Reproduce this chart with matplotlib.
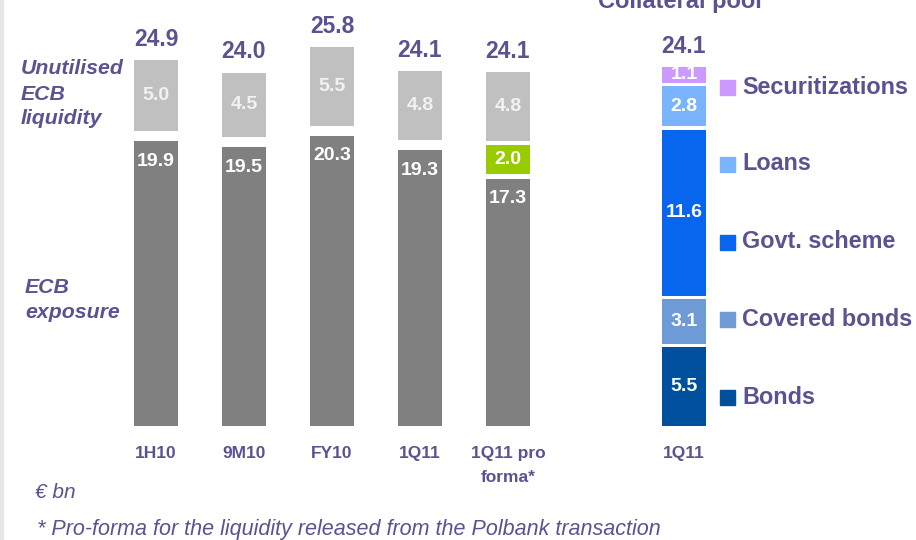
import matplotlib
matplotlib.use('Agg')
import matplotlib.pyplot as plt
from matplotlib.patches import Rectangle

plt.rcParams['font.family'] = ['Liberation Sans', 'DejaVu Sans']

# ECB liquidity columns (EUR bn)
periods = ['1H10', '9M10', 'FY10', '1Q11', '1Q11 pro\nforma*']
ecb_exposure = [19.9, 19.5, 20.3, 19.3, 17.3]
released = [0, 0, 0, 0, 2.0]
unutilised = [5.0, 4.5, 5.5, 4.8, 4.8]
totals = [24.9, 24.0, 25.8, 24.1, 24.1]

# collateral pool, bottom to top
pool_period = '1Q11'
pool_labels = ['Bonds', 'Covered bonds', 'Govt. scheme', 'Loans', 'Securitizations']
pool_values = [5.5, 3.1, 11.6, 2.8, 1.1]
pool_total = 24.1

purple = '#5B5291'
dark_grey = '#808080'
light_grey = '#C0C0C0'
green = '#99CC00'
pool_colors = ['#00509E', '#6E9AD6', '#0866EE', '#7AB4FF', '#CC99FF']

W, H = 916, 540
fig = plt.figure(figsize=(W / 100, H / 100), dpi=100)
ax = fig.add_axes([0, 0, 1, 1])
ax.axis('off')

px_x = 88.0    # pixels per category step
px_y = 14.3    # pixels per EUR bn
x0, y0 = 156, 114
ax.set_xlim(-x0 / px_x, (W - x0) / px_x)
ax.set_ylim(-y0 / px_y, (H - y0) / px_y)

# light strip on the left edge
fig.patches.append(Rectangle((0, 0), 3 / W, 1, transform=fig.transFigure,
                             color='#E6E6E6', zorder=0))

bw = 0.51
for i in range(len(periods)):
    segs = [(ecb_exposure[i], dark_grey, 'white', 'top')]
    if released[i]:
        segs.append((released[i], green, 'white', 'center'))
    segs.append((unutilised[i], light_grey, '#F2F2F2', 'center'))
    gap = 0.7 if len(segs) == 2 else 0.32
    bottom = 0
    for val, col, tcol, pos in segs:
        ax.bar(i, val, bw, bottom=bottom, color=col, linewidth=0)
        if pos == 'top':
            ax.annotate(f'{val:.1f}', (i, bottom + val), xytext=(0, -14.5),
                        textcoords='offset points', ha='center', va='center',
                        color=tcol, fontsize=14, fontweight='bold')
        else:
            ax.text(i, bottom + val / 2, f'{val:.1f}', ha='center', va='center',
                    color=tcol, fontsize=14, fontweight='bold')
        bottom += val + gap
    ax.annotate(f'{totals[i]:.1f}', (i, bottom - gap), xytext=(0, 15),
                textcoords='offset points', ha='center', va='center',
                color=purple, fontsize=16.5, fontweight='bold')
    ax.annotate(periods[i], (i, 0), xytext=(0, -14.5), textcoords='offset points',
                ha='center', va='top', color=purple, fontsize=12.5,
                fontweight='bold', linespacing=1.75)

# collateral pool column
xp = 6
gap = 0.25
bottom = 0
for val, col in zip(pool_values, pool_colors):
    ax.bar(xp, val, 0.51, bottom=bottom, color=col, linewidth=0)
    ax.text(xp, bottom + val / 2, f'{val:.1f}', ha='center', va='center',
            color='white', fontsize=14, fontweight='bold')
    bottom += val + gap
ax.annotate(f'{pool_total:.1f}', (xp, bottom - gap), xytext=(0, 15),
            textcoords='offset points', ha='center', va='center',
            color=purple, fontsize=16.5, fontweight='bold')
ax.annotate(pool_period, (xp, 0), xytext=(0, -14.5), textcoords='offset points',
            ha='center', va='top', color=purple, fontsize=12.5, fontweight='bold')

# legend for the pool, top to bottom
leg_y = [87.5, 164, 242, 319, 397]
for lab, col, yy in zip(pool_labels[::-1], pool_colors[::-1], leg_y):
    fig.patches.append(Rectangle((720 / W, 1 - (yy + 7.5) / H), 15 / W, 15 / H,
                                 transform=fig.transFigure, color=col))
    fig.text(742 / W, 1 - yy / H, lab, ha='left', va='center', color=purple,
             fontsize=16.8, fontweight='bold')

# side captions and notes
fig.text(21 / W, 1 - 94 / H, 'Unutilised\nECB\nliquidity', ha='left', va='center',
         color=purple, fontsize=15.3, fontweight='bold', style='italic',
         linespacing=1.4)
fig.text(25 / W, 1 - 300 / H, 'ECB\nexposure', ha='left', va='center',
         color=purple, fontsize=15.3, fontweight='bold', style='italic',
         linespacing=1.4)
fig.text(35 / W, 1 - 493 / H, '€ bn', ha='left', va='center', color=purple,
         fontsize=15, style='italic')
fig.text(37 / W, 1 - 530 / H,
         '* Pro-forma for the liquidity released from the Polbank transaction',
         ha='left', va='center', color=purple, fontsize=15.5, style='italic')
fig.text(598 / W, 1 - 8 / H, 'Collateral pool', ha='left', va='baseline',
         color=purple, fontsize=17, fontweight='bold')

fig.savefig('out.png', dpi=100)
